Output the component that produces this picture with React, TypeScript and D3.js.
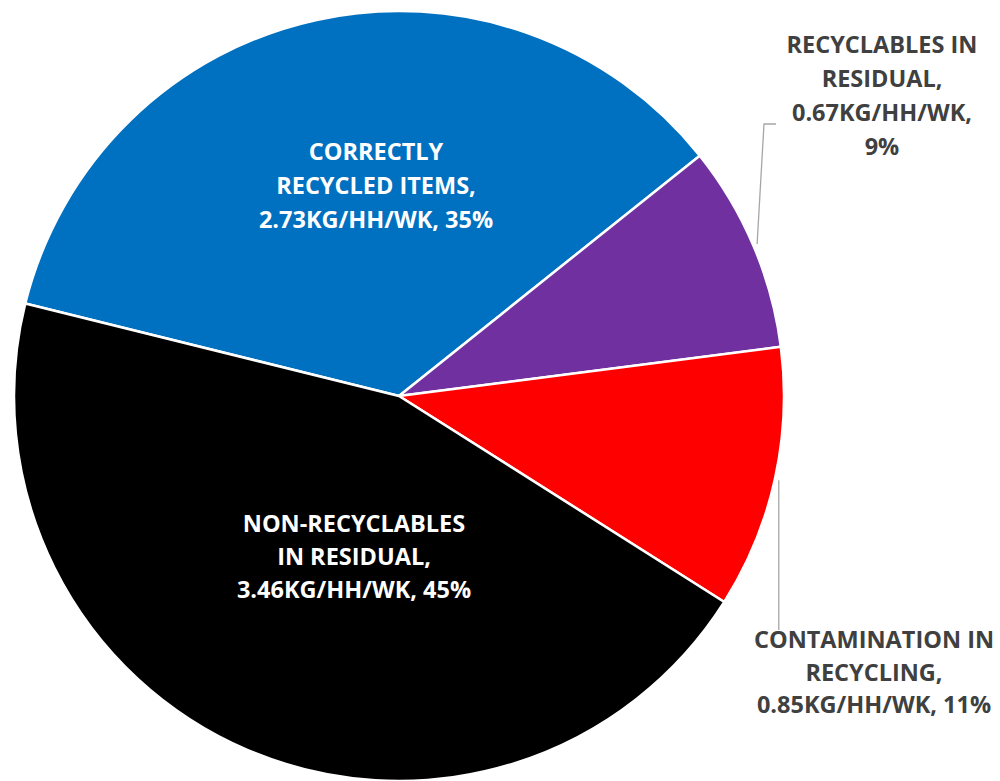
import { useEffect, useRef } from 'react'
import * as d3 from 'd3'

// slice data (Excel order, first slice starts at ~-76deg)
const categories = [
  'CORRECTLY RECYCLED ITEMS',
  'RECYCLABLES IN RESIDUAL',
  'CONTAMINATION IN RECYCLING',
  'NON-RECYCLABLES IN RESIDUAL',
]
const values = [2.73, 0.67, 0.85, 3.46]
const percents = ['35%', '9%', '11%', '45%']
const colors = ['#0070C0', '#7030A0', '#FF0000', '#000000']

// label text split into lines as in the chart
const labelLines = [
  ['CORRECTLY', 'RECYCLED ITEMS,', '2.73KG/HH/WK, 35%'],
  ['RECYCLABLES IN', 'RESIDUAL,', '0.67KG/HH/WK,', '9%'],
  ['CONTAMINATION IN', 'RECYCLING,', '0.85KG/HH/WK, 11%'],
  ['NON-RECYCLABLES', 'IN RESIDUAL,', '3.46KG/HH/WK, 45%'],
]

interface Slice {
  name: string
  value: number
  pct: string
  color: string
  lines: string[]
}

const data: Slice[] = categories.map((name, i) => ({
  name,
  value: values[i],
  pct: percents[i],
  color: colors[i],
  lines: labelLines[i],
}))

export default function App() {
  const svgRef = useRef<SVGSVGElement>(null)
  const width = 1000
  const height = 781

  useEffect(() => {
    if (!svgRef.current) return
    const svg = d3.select(svgRef.current)
    svg.selectAll('*').remove()

    const cx = 399
    const cy = 396
    const radius = 385
    const start = (-76.1 * Math.PI) / 180

    const pie = d3.pie<Slice>()
      .value(d => d.value)
      .sort(null)
      .startAngle(start)
      .endAngle(start + Math.PI * 2)

    const arc = d3.arc<d3.PieArcDatum<Slice>>()
      .innerRadius(0)
      .outerRadius(radius)

    const g = svg.append('g').attr('transform', `translate(${cx},${cy})`)
    const arcs = pie(data)

    g.selectAll('path')
      .data(arcs)
      .enter().append('path')
      .attr('d', arc)
      .attr('fill', d => d.data.color)
      .attr('stroke', '#fff')
      .attr('stroke-width', 2.5)
      .attr('stroke-linejoin', 'round')

    // label layout: centre x, first baseline, line spacing, colour, leader
    const labelPos = [
      { x: -23, y: -236, dy: 34, fill: '#fff', leader: null as null | [number, number][] },
      { x: 483, y: -343, dy: 34, fill: '#404040', leader: [[365, -272], [377, -272]] as [number, number][] },
      { x: 475, y: 252, dy: 32.5, fill: '#404040', leader: [[379, 234]] as [number, number][] },
      { x: -45, y: 136, dy: 33, fill: '#fff', leader: null as null | [number, number][] },
    ]

    arcs.forEach((a, i) => {
      const pos = labelPos[i]
      if (pos.leader) {
        const mid = (a.startAngle + a.endAngle) / 2
        const r0 = radius + 4
        const p0: [number, number] = [Math.sin(mid) * r0, -Math.cos(mid) * r0]
        if (i === 2) pos.leader = [[p0[0], pos.leader[0][1]]]
        g.append('path')
          .attr('d', d3.line()([p0, ...pos.leader]))
          .attr('fill', 'none')
          .attr('stroke', '#a6a6a6')
          .attr('stroke-width', 1.3)
      }
      const t = g.append('text')
        .attr('text-anchor', 'middle')
        .attr('fill', pos.fill)
        .style('font-family', '"Open Sans", Lato, sans-serif')
        .style('font-weight', '700')
        .style('font-size', '23.5px')
      a.data.lines.forEach((line, j) => {
        t.append('tspan')
          .attr('x', pos.x)
          .attr('y', pos.y + j * pos.dy)
          .text(line)
      })
    })
  }, [])

  return (
    <svg
      ref={svgRef}
      width={width}
      height={height}
      style={{ position: 'absolute', left: 0, top: 0, background: '#fff' }}
    />
  )
}
